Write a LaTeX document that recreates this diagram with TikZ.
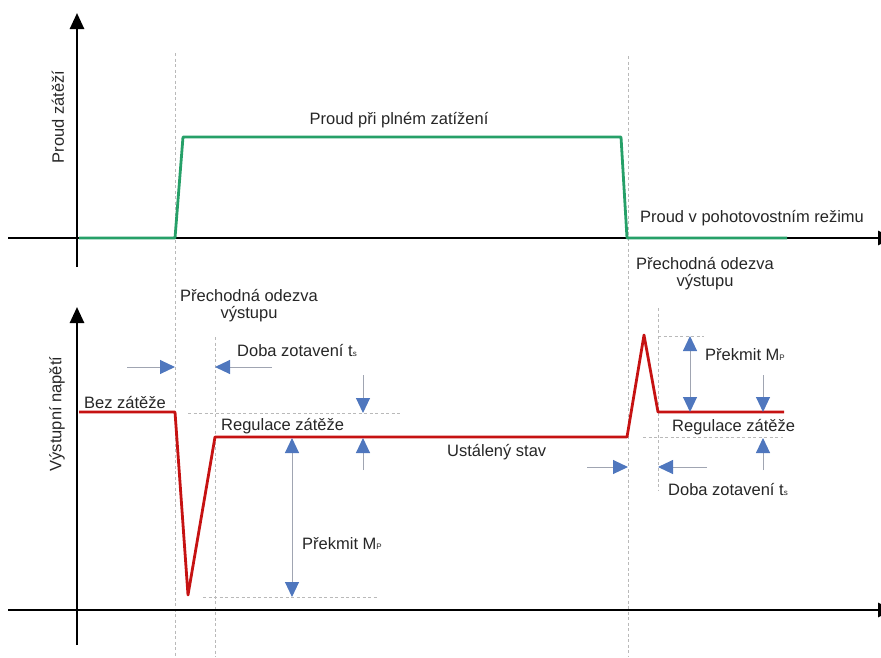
\documentclass[tikz,border=0pt]{standalone}
\usepackage{fontspec}
\setmainfont{Liberation Sans}
\usetikzlibrary{arrows.meta}
\definecolor{loadgreen}{RGB}{38,160,104}
\definecolor{outred}{RGB}{198,18,18}
\definecolor{tipblue}{RGB}{79,119,190}
\definecolor{shaftgray}{RGB}{160,165,178}
\definecolor{guidegray}{RGB}{185,185,185}
\newcommand{\lowsub}[1]{{\fontsize{8}{8}\selectfont #1}}

\begin{document}
\begin{tikzpicture}[x=1pt,y=-1pt,
    lbl/.style={font=\fontsize{16.5}{17}\selectfont,text=black!85,inner sep=0pt},
    ax/.style={line width=2.6pt,-{Triangle[length=16,width=14]}},
    guide/.style={guidegray,line width=0.7pt,dash pattern=on 3pt off 2.5pt},
    dimto/.style={shaftgray,line width=1pt,-{Triangle[length=15,width=14,color=tipblue]}},
    dimboth/.style={shaftgray,line width=1pt,{Triangle[length=15,width=14,color=tipblue]}-{Triangle[length=15,width=14,color=tipblue]}}]
    \useasboundingbox (0,0) rectangle (881,657);
    \clip (0,0) rectangle (881,657);
    % guides
    \draw[guide] (175,53)--(175,657);
    \draw[guide] (215,337)--(215,657);
    \draw[guide] (628,56)--(628,657);
    \draw[guide] (658,308)--(658,490);
    \draw[guide] (188,413)--(402,413);
    \draw[guide] (203,597)--(378,597);
    \draw[guide] (658,336)--(704,336);
    \draw[guide] (643,437)--(783,437);
    % axes
    \draw[ax] (8,238)--(894,238);
    \draw[ax] (77,267)--(77,13);
    \draw[ax] (8,610)--(894,610);
    \draw[ax] (77,645)--(77,307);
    % load current and output voltage
    \draw[loadgreen,line width=2.8pt,line join=round] (79,238)--(175,238)--(183,137)--(621,137)--(627,238)--(787,238);
    \draw[outred,line width=2.8pt,line join=round] (79,412)--(175,412)--(188,595)--(215,437)--(627,437)--(644,335)--(658,412)--(784,412);
    % labels
    \node[lbl,rotate=90] (ytop) at (58,117) {Proud zátěží};
    \node[lbl,rotate=90] (ybot) at (57,414) {Výstupní napětí};
    \node[lbl] (full) at (399,120) {Proud při plném zatížení};
    \node[lbl] (standby) at (752,218) {Proud v pohotovostním režimu};
    \node[lbl,align=center] (transA) at (249,306) {Přechodná odezva\\výstupu};
    \node[lbl,align=center] (transB) at (705,274) {Přechodná odezva\\výstupu};
    \node[lbl,anchor=west] (recA) at (237,350) {Doba zotavení t\lowsub{s}};
    \node[lbl,anchor=west] (noload) at (84,402) {Bez zátěže};
    \node[lbl,anchor=west] (regA) at (221,426) {Regulace zátěže};
    \node[lbl,anchor=west] (steady) at (447,452) {Ustálený stav};
    \node[lbl,anchor=west] (overA) at (302,544) {Překmit M\lowsub{P}};
    \node[lbl,anchor=west] (overB) at (705,355) {Překmit M\lowsub{P}};
    \node[lbl,anchor=west] (regB) at (672,427) {Regulace zátěže};
    \node[lbl,anchor=west] (recB) at (668,489) {Doba zotavení t\lowsub{s}};
    % dimension arrows
    \coordinate (ra1) at (127,367); \coordinate (ra2) at (175,367);
    \coordinate (rb1) at (272,367); \coordinate (rb2) at (215,367);
    \coordinate (da1) at (363,375); \coordinate (da2) at (363,413);
    \coordinate (ua1) at (363,470); \coordinate (ua2) at (363,438);
    \coordinate (oa1) at (292,438); \coordinate (oa2) at (292,597);
    \coordinate (rc1) at (587,467); \coordinate (rc2) at (628,467);
    \coordinate (rd1) at (707,467); \coordinate (rd2) at (658,467);
    \coordinate (db1) at (763,375); \coordinate (db2) at (763,412);
    \coordinate (ub1) at (763,470); \coordinate (ub2) at (763,438);
    \coordinate (ob1) at (690,336); \coordinate (ob2) at (690,412);
    \draw[dimto] (ra1)--(ra2);
    \draw[dimto] (rb1)--(rb2);
    \draw[dimto] (da1)--(da2);
    \draw[dimto] (ua1)--(ua2);
    \draw[dimboth] (oa1)--(oa2);
    \draw[dimto] (rc1)--(rc2);
    \draw[dimto] (rd1)--(rd2);
    \draw[dimto] (db1)--(db2);
    \draw[dimto] (ub1)--(ub2);
    \draw[dimboth] (ob1)--(ob2);
\end{tikzpicture}
\end{document}
